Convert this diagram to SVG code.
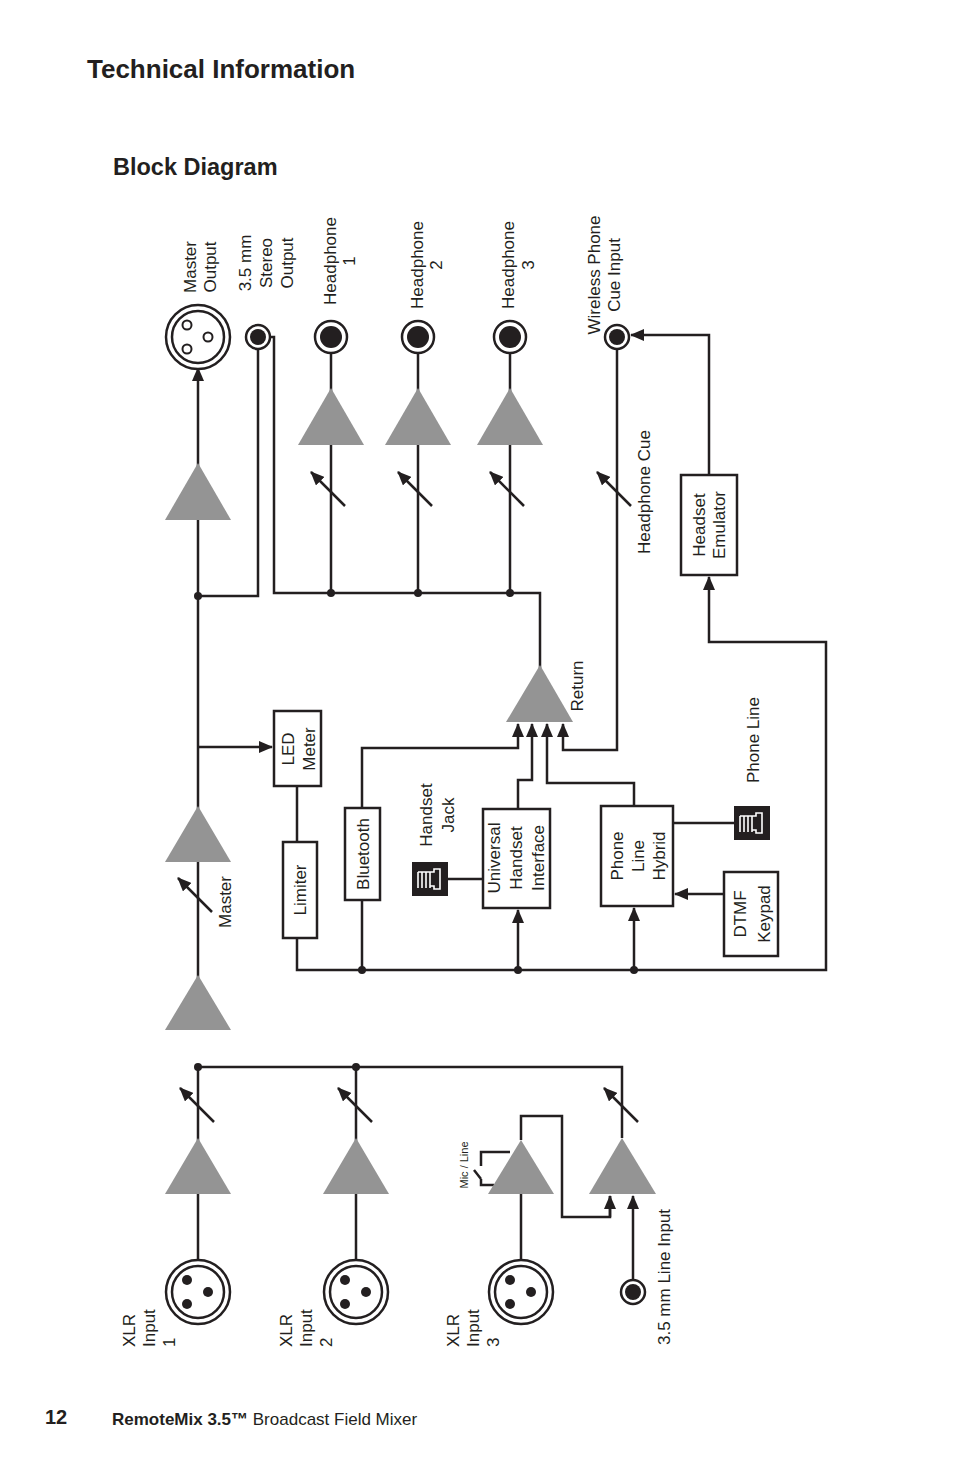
<svg xmlns="http://www.w3.org/2000/svg" width="954" height="1475" viewBox="0 0 954 1475">
<style>
.w{fill:none;stroke:#231f20;stroke-width:2.5}
.b{fill:#fff;stroke:#231f20;stroke-width:2.5}
.t{fill:#949494}
.d{fill:#231f20}
text{font-family:"Liberation Sans",Arial,sans-serif;fill:#231f20}
.l{font-size:17px}
</style>
<defs>
<marker id="a" markerUnits="userSpaceOnUse" markerWidth="14" markerHeight="12" refX="13" refY="6" orient="auto"><path d="M0,0L14,6L0,12z" fill="#231f20"/></marker>
<g id="var"><line x1="16" y1="16" x2="-18" y2="-18" class="w" marker-end="url(#a)"/></g>
<g id="jack"><circle r="16" class="b"/><circle r="11" class="d"/></g>
<g id="sjack"><circle r="12" class="b"/><circle r="8" class="d"/></g>
<g id="xlr"><circle r="32" class="b"/><circle r="26" class="b"/></g>
<g id="rj"><rect x="-18" y="-17" width="36" height="34" class="d"/><path d="M-12,9V-7M-8,9V-7M-4,9V-7M0,9V-7M-12,-7H4V-10H10V10H4V7H0" fill="none" stroke="#fff" stroke-width="1.6"/></g>
</defs>
<text x="87" y="78" font-size="26" font-weight="bold">Technical Information</text>
<text x="113" y="175" font-size="23.5" font-weight="bold">Block Diagram</text>
<text x="45" y="1424" font-size="20" font-weight="bold">12</text>
<text x="112" y="1425" font-size="17"><tspan font-weight="bold" font-family="'Liberation Sans Narrow','Liberation Sans',sans-serif">RemoteMix 3.5™</tspan> <tspan font-family="'Liberation Sans Narrow','Liberation Sans',sans-serif">Broadcast Field Mixer</tspan></text>

<g id="connectors">
<path class="w" d="M198,1260V1067M198,1194V1138M356,1260V1067M356,1194V1138M198,1067H622V1138M521,1260V1194M521,1140V1116H562V1217H610V1196" />
<path class="w" d="M610,1217V1196" marker-end="url(#a)"/>
<path class="w" d="M633,1280V1196" marker-end="url(#a)"/>
<path class="w" d="M510,1152H481V1166M474,1170L481,1179M481,1179V1185H494"/>
<path class="w" d="M198,1030V975M198,862V368" marker-end="url(#a)"/>
<path class="w" d="M198,975V862"/>
<path class="w" d="M198,596H258V349M270,337H274V593H540V668M331,593V353M418,593V353M510,593V353"/>
<path class="w" d="M198,747H272" marker-end="url(#a)"/>
<path class="w" d="M297,786V842M297,938V970H826V642H709V577" marker-end="url(#a)"/>
<path class="w" d="M709,475V335H631" marker-end="url(#a)"/>
<path class="w" d="M617,349V750H563V724" marker-end="url(#a)"/>
<path class="w" d="M362,808V748H518V724" marker-end="url(#a)"/>
<path class="w" d="M518,808V780H532V724" marker-end="url(#a)"/>
<path class="w" d="M634,806V783H547V724" marker-end="url(#a)"/>
<path class="w" d="M362,900V970"/>
<path class="w" d="M518,970V910" marker-end="url(#a)"/>
<path class="w" d="M634,970V908" marker-end="url(#a)"/>
<path class="w" d="M724,894H675" marker-end="url(#a)"/>
<path class="w" d="M446,879H483M673,823H735"/>
<g class="d"><circle cx="198" cy="1067" r="4"/><circle cx="356" cy="1067" r="4"/><circle cx="198" cy="596" r="4"/><circle cx="331" cy="593" r="4"/><circle cx="418" cy="593" r="4"/><circle cx="510" cy="593" r="4"/><circle cx="362" cy="970" r="4"/><circle cx="518" cy="970" r="4"/><circle cx="634" cy="970" r="4"/></g>
<use href="#var" x="198" y="1106"/><use href="#var" x="356" y="1106"/><use href="#var" x="622" y="1106"/>
<use href="#var" x="196" y="896"/>
<use href="#var" x="329" y="490"/><use href="#var" x="416" y="490"/><use href="#var" x="508" y="490"/><use href="#var" x="615" y="490"/>
</g>

<g id="amps" class="t">
<path d="M198,1138L231,1194H165z"/><path d="M356,1138L389,1194H323z"/><path d="M521,1140L554,1194H488z"/><path d="M622,1138L656,1194H589z"/>
<path d="M198,975L231,1030H165z"/><path d="M198,806L231,862H165z"/><path d="M198,463L231,520H165z"/>
<path d="M331,388L364,445H298z"/><path d="M418,388L451,445H385z"/><path d="M510,388L543,445H477z"/>
<path d="M540,665L573,722H506z"/>
</g>

<g id="xlr-in1"><use href="#xlr" x="198" y="1292"/><g class="d"><circle cx="187" cy="1280" r="5"/><circle cx="187" cy="1304" r="5"/><circle cx="208" cy="1292" r="5"/></g>
<text class="l" transform="translate(135,1347) rotate(-90)">XLR</text><text class="l" transform="translate(155,1347) rotate(-90)">Input</text><text class="l" transform="translate(175,1347) rotate(-90)">1</text></g>
<g id="xlr-in2"><use href="#xlr" x="356" y="1292"/><g class="d"><circle cx="345" cy="1280" r="5"/><circle cx="345" cy="1304" r="5"/><circle cx="366" cy="1292" r="5"/></g>
<text class="l" transform="translate(292,1347) rotate(-90)">XLR</text><text class="l" transform="translate(312,1347) rotate(-90)">Input</text><text class="l" transform="translate(332,1347) rotate(-90)">2</text></g>
<g id="xlr-in3"><use href="#xlr" x="521" y="1292"/><g class="d"><circle cx="510" cy="1280" r="5"/><circle cx="510" cy="1304" r="5"/><circle cx="531" cy="1292" r="5"/></g>
<text class="l" transform="translate(459,1347) rotate(-90)">XLR</text><text class="l" transform="translate(479,1347) rotate(-90)">Input</text><text class="l" transform="translate(499,1347) rotate(-90)">3</text></g>
<g id="line-in"><use href="#sjack" x="633" y="1292"/><text class="l" transform="translate(670,1345) rotate(-90)">3.5 mm Line Input</text></g>
<g id="micline"><text font-size="11" transform="translate(468,1165) rotate(-90)" text-anchor="middle">Mic / Line</text></g>

<g id="master-out"><use href="#xlr" x="198" y="337"/><g fill="none" stroke="#231f20" stroke-width="2"><circle cx="187" cy="325" r="4.5"/><circle cx="187" cy="349" r="4.5"/><circle cx="208" cy="337" r="4.5"/></g>
<text class="l" text-anchor="middle" transform="translate(196,267) rotate(-90)">Master</text><text class="l" text-anchor="middle" transform="translate(216,267) rotate(-90)">Output</text></g>
<g id="stereo-out"><use href="#sjack" x="258" y="337"/>
<text class="l" text-anchor="middle" transform="translate(251,263) rotate(-90)">3.5 mm</text><text class="l" text-anchor="middle" transform="translate(272,263) rotate(-90)">Stereo</text><text class="l" text-anchor="middle" transform="translate(293,263) rotate(-90)">Output</text></g>
<g id="hp1"><use href="#jack" x="331" y="337"/><text class="l" text-anchor="middle" transform="translate(336,261) rotate(-90)">Headphone</text><text class="l" text-anchor="middle" transform="translate(355,261) rotate(-90)">1</text></g>
<g id="hp2"><use href="#jack" x="418" y="337"/><text class="l" text-anchor="middle" transform="translate(423,265) rotate(-90)">Headphone</text><text class="l" text-anchor="middle" transform="translate(442,265) rotate(-90)">2</text></g>
<g id="hp3"><use href="#jack" x="510" y="337"/><text class="l" text-anchor="middle" transform="translate(514,265) rotate(-90)">Headphone</text><text class="l" text-anchor="middle" transform="translate(534,265) rotate(-90)">3</text></g>
<g id="cue-in"><use href="#sjack" x="617" y="337"/><text class="l" text-anchor="middle" transform="translate(600,275) rotate(-90)">Wireless Phone</text><text class="l" text-anchor="middle" transform="translate(620,275) rotate(-90)">Cue Input</text></g>
<g id="hpcue"><text class="l" text-anchor="middle" transform="translate(650,492) rotate(-90)">Headphone Cue</text></g>
<g id="headset-emu"><rect x="681" y="475" width="56" height="100" class="b"/><text class="l" text-anchor="middle" transform="translate(705,525) rotate(-90)">Headset</text><text class="l" text-anchor="middle" transform="translate(725,525) rotate(-90)">Emulator</text></g>
<g id="return"><text class="l" text-anchor="middle" transform="translate(583,686) rotate(-90)">Return</text></g>
<g id="master-lbl"><text class="l" text-anchor="middle" transform="translate(231,902) rotate(-90)">Master</text></g>
<g id="led"><rect x="274" y="711" width="47" height="75" class="b"/><text class="l" text-anchor="middle" transform="translate(294,749) rotate(-90)">LED</text><text class="l" text-anchor="middle" transform="translate(315,749) rotate(-90)">Meter</text></g>
<g id="limiter"><rect x="283" y="842" width="34" height="96" class="b"/><text class="l" text-anchor="middle" transform="translate(306,890) rotate(-90)">Limiter</text></g>
<g id="bluetooth"><rect x="345" y="808" width="35" height="92" class="b"/><text class="l" text-anchor="middle" transform="translate(369,854) rotate(-90)">Bluetooth</text></g>
<g id="handset-jack"><use href="#rj" x="430" y="879"/><text class="l" text-anchor="middle" transform="translate(432,815) rotate(-90)">Handset</text><text class="l" text-anchor="middle" transform="translate(454,815) rotate(-90)">Jack</text></g>
<g id="uhi"><rect x="483" y="809" width="67" height="99" class="b"/><text class="l" text-anchor="middle" transform="translate(500,858) rotate(-90)">Universal</text><text class="l" text-anchor="middle" transform="translate(522,858) rotate(-90)">Handset</text><text class="l" text-anchor="middle" transform="translate(544,858) rotate(-90)">Interface</text></g>
<g id="hybrid"><rect x="601" y="806" width="72" height="100" class="b"/><text class="l" text-anchor="middle" transform="translate(623,856) rotate(-90)">Phone</text><text class="l" text-anchor="middle" transform="translate(644,856) rotate(-90)">Line</text><text class="l" text-anchor="middle" transform="translate(665,856) rotate(-90)">Hybrid</text></g>
<g id="phone-line"><use href="#rj" x="752" y="823"/><text class="l" text-anchor="middle" transform="translate(759,740) rotate(-90)">Phone Line</text></g>
<g id="dtmf"><rect x="724" y="872" width="54" height="84" class="b"/><text class="l" text-anchor="middle" transform="translate(746,914) rotate(-90)">DTMF</text><text class="l" text-anchor="middle" transform="translate(770,914) rotate(-90)">Keypad</text></g>
</svg>
